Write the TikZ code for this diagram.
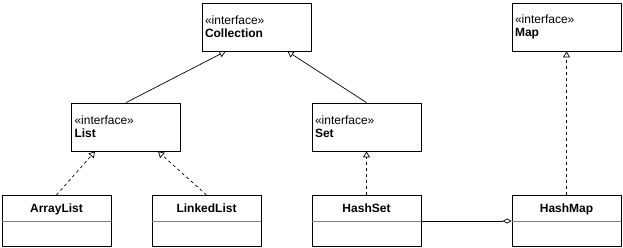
\documentclass[tikz,border=0pt]{standalone}
\usepackage{fontspec}
\setmainfont{Liberation Sans}
\usetikzlibrary{arrows.meta,positioning}
\tikzset{iface/.style={draw, line width=0.8pt, minimum width=109pt, minimum height=48pt, inner xsep=3pt, text width=103pt, align=left, font=\fontsize{12}{13}\selectfont},
cls/.style={draw, line width=0.8pt, minimum width=109pt, inner ysep=0pt, text height=17pt, text depth=34pt, font=\fontsize{12}{13}\selectfont\bfseries},
real/.style={->, dash pattern=on 3pt off 3pt, line width=0.7pt},
inh/.style={->, line width=0.7pt}}
\newcommand{\stereo}{«interface»}

\begin{document}
\begin{tikzpicture}[x=1pt, y=-1pt, >={Triangle[open, width=7pt, length=6pt]}]
\useasboundingbox (0,0) rectangle (623,248);
\node[iface] (Col) at (256.5,27) {\stereo\\\textbf{Collection}};
\node[iface] (Map) at (566.5,27) {\stereo\\\textbf{Map}};
\node[iface] (List) at (126,127) {\stereo\\\textbf{List}};
\node[iface] (Set) at (366.5,127) {\stereo\\\textbf{Set}};
\node[cls, anchor=north] (AL) at (56.5,195) {ArrayList};
\node[cls, anchor=north] (LL) at (206.5,195) {LinkedList};
\node[cls, anchor=north] (HS) at (366.5,195) {HashSet};
\node[cls, anchor=north] (HM) at (566.5,195) {HashMap};
% compartment lines
\foreach \c in {AL,LL,HS,HM}
  \draw[gray, line width=0.7pt] ([yshift=-26pt]\c.north west) -- ([yshift=-26pt]\c.north east);
% generalization
\draw[inh] (List.north) -- ([xshift=-31pt]Col.south);
\draw[inh] (Set.north) -- ([xshift=31pt]Col.south);
% realization
\draw[real] (AL.north) -- ([xshift=-31pt]List.south);
\draw[real] (LL.north) -- ([xshift=32pt]List.south);
\draw[real] (HS.north) -- (Set.south);
\draw[real] (HM.north) -- (Map.south);
% aggregation
\draw[line width=0.7pt, -{Diamond[open, width=5pt, length=9pt]}] ([yshift=-26pt]HS.north east) -- ([yshift=-26pt]HM.north west);
\end{tikzpicture}
\end{document}
